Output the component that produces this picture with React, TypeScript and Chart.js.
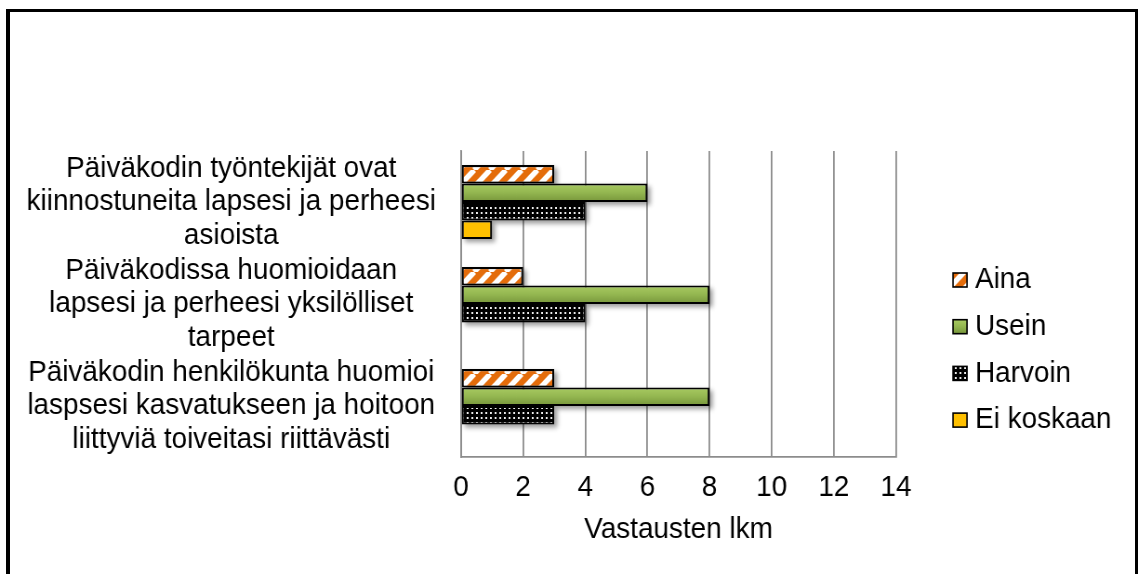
import { useEffect, useRef } from "react";
import { Chart, registerables } from "chart.js";

Chart.register(...registerables);

const categories: string[][] = [
  ["Päiväkodin työntekijät ovat", "kiinnostuneita lapsesi ja perheesi", "asioista"],
  ["Päiväkodissa huomioidaan", "lapsesi ja perheesi yksilölliset", "tarpeet"],
  ["Päiväkodin henkilökunta huomioi", "laspsesi kasvatukseen ja hoitoon", "liittyviä toiveitasi riittävästi"],
];
const seriesNames = ["Aina", "Usein", "Harvoin", "Ei koskaan"];
const ainaValues = [3, 2, 3];
const useinValues = [6, 8, 8];
const harvoinValues = [4, 4, 3];
const eiKoskaanValues = [1, 0, 0];
const xTickValues = [0, 2, 4, 6, 8, 10, 12, 14];
const xAxisTitle = "Vastausten lkm";

// The reference text is slightly condensed; draw on a slightly wider logical canvas
// and scale it to the page width with CSS.
const PAGE_W = 1138;
const PAGE_H = 574;
const LOGICAL_W = 1224;
const SX = PAGE_W / LOGICAL_W;
const lx = (screenX: number) => screenX / SX;

const FONT_FAMILY = "'Liberation Sans', Arial, sans-serif";
const FONT_SIZE = 30;
const LINE_HEIGHT = 1.11;

function stripePattern(ctx: CanvasRenderingContext2D): CanvasPattern | string {
  const s = 17;
  const c = document.createElement("canvas");
  c.width = s;
  c.height = s;
  const g = c.getContext("2d");
  if (!g) return "#E46C0A";
  g.fillStyle = "#E46C0A";
  g.fillRect(0, 0, s, s);
  g.strokeStyle = "#ffffff";
  g.lineWidth = 5.5;
  for (const o of [-s, 0, s]) {
    g.beginPath();
    g.moveTo(o, s);
    g.lineTo(o + s, 0);
    g.stroke();
  }
  return ctx.createPattern(c, "repeat") || "#E46C0A";
}

function dotPattern(ctx: CanvasRenderingContext2D): CanvasPattern | string {
  const w = 5;
  const h = 5;
  const c = document.createElement("canvas");
  c.width = w;
  c.height = h;
  const g = c.getContext("2d");
  if (!g) return "#000";
  g.fillStyle = "#000000";
  g.fillRect(0, 0, w, h);
  g.fillStyle = "#ececec";
  g.fillRect(2, 2, 2, 2);
  return ctx.createPattern(c, "repeat") || "#000";
}

function greenGradient(ctx: CanvasRenderingContext2D, top: number, h: number) {
  const gr = ctx.createLinearGradient(0, top, 0, top + h);
  gr.addColorStop(0, "#a9cb62");
  gr.addColorStop(0.5, "#93b650");
  gr.addColorStop(1, "#76953a");
  return gr;
}

const shadowPlugin = {
  id: "barShadow",
  beforeDatasetsDraw(chart: any) {
    const ctx: CanvasRenderingContext2D = chart.ctx;
    chart.data.datasets.forEach((_: any, i: number) => {
      const meta = chart.getDatasetMeta(i);
      meta.data.forEach((el: any) => {
        const { x, y, base, height } = el.getProps(["x", "y", "base", "height"], true);
        const w = x - base;
        if (!(w > 0.5)) return;
        ctx.save();
        ctx.filter = "blur(2.5px)";
        ctx.fillStyle = "rgba(0,0,0,0.4)";
        ctx.fillRect(base + 3.2, y - height / 2 + 3, w, height);
        ctx.restore();
      });
    });
  },
};

const legendPlugin = {
  id: "sideLegend",
  afterDraw(chart: any) {
    const ctx: CanvasRenderingContext2D = chart.ctx;
    const startY = 280;
    const step = 46.7;
    const boxX = lx(953);
    const boxW = lx(967) - lx(953);
    const boxH = 14;
    const textX = lx(975);
    chart.data.datasets.forEach((ds: any, i: number) => {
      const cy = startY + i * step;
      const top = cy - boxH / 2;
      ctx.save();
      let fill = ds.backgroundColor;
      if (typeof fill === "function") fill = greenGradient(ctx, top, boxH);
      ctx.fillStyle = fill;
      ctx.fillRect(boxX, top, boxW, boxH);
      ctx.strokeStyle = "#000";
      ctx.lineWidth = 1.6;
      ctx.strokeRect(boxX, top, boxW, boxH);
      ctx.fillStyle = "#000";
      ctx.font = `${FONT_SIZE}px ${FONT_FAMILY}`;
      ctx.textBaseline = "middle";
      ctx.textAlign = "left";
      ctx.fillText(ds.label, textX, cy);
      ctx.restore();
    });
  },
};

export default function App() {
  const ref = useRef<HTMLCanvasElement>(null);

  useEffect(() => {
    const canvas = ref.current;
    if (!canvas) return;
    const ctx = canvas.getContext("2d");
    if (!ctx) return;

    const stripes = stripePattern(ctx);
    const dots = dotPattern(ctx);
    const green = (c: any) => {
      const el = c.element;
      if (!el || el.y == null || !isFinite(el.y) || !el.height) return "#8db24a";
      return greenGradient(c.chart.ctx, el.y - el.height / 2, el.height);
    };

    const font = { family: FONT_FAMILY, size: FONT_SIZE, lineHeight: LINE_HEIGHT };
    const common = {
      borderColor: "#000000",
      borderWidth: 2.1,
      borderSkipped: false,
      categoryPercentage: 0.725,
      barPercentage: 1,
    };

    const plotLeft = lx(461);
    const plotRight = lx(896);
    const plotTop = 151;
    const plotBottom = 457;
    const xAxisHeight = 89.7;

    const chart = new Chart(ctx, {
      type: "bar",
      data: {
        labels: categories,
        datasets: [
          { label: seriesNames[0], data: ainaValues, backgroundColor: stripes, ...common },
          { label: seriesNames[1], data: useinValues, backgroundColor: green, ...common },
          { label: seriesNames[2], data: harvoinValues, backgroundColor: dots, ...common },
          { label: seriesNames[3], data: eiKoskaanValues, backgroundColor: "#FFC000", ...common },
        ] as any,
      },
      options: {
        indexAxis: "y",
        responsive: false,
        animation: false,
        events: [],
        devicePixelRatio: 1,
        layout: {
          padding: {
            top: plotTop,
            right: LOGICAL_W - plotRight,
            bottom: PAGE_H - plotBottom - xAxisHeight,
            left: 0,
          },
        },
        plugins: {
          legend: { display: false },
          tooltip: { enabled: false },
        },
        scales: {
          x: {
            type: "linear",
            min: 0,
            max: 14,
            afterBuildTicks: (s: any) => {
              s.ticks = xTickValues.map((v) => ({ value: v }));
            },
            afterFit: (s: any) => {
              s.height = xAxisHeight;
            },
            grid: { color: "#8c8c8c", lineWidth: 1.8, drawTicks: false },
            border: { display: true, color: "#8c8c8c", width: 1.8 },
            ticks: { padding: 14, color: "#000", font },
            title: {
              display: true,
              text: xAxisTitle,
              color: "#000",
              font,
              padding: { top: 0, bottom: 0 },
            },
          },
          y: {
            type: "category",
            grid: { display: false, drawTicks: false },
            border: { display: true, color: "#8c8c8c", width: 1.8 },
            ticks: { crossAlign: "center", padding: 27, color: "#000", font, autoSkip: false },
            afterFit: (s: any) => {
              s.width = plotLeft;
            },
          },
        },
      } as any,
      plugins: [shadowPlugin, legendPlugin],
    });
    chart.update();

    return () => {
      chart.destroy();
    };
  }, []);

  return (
    <div
      style={{
        position: "fixed",
        left: 0,
        top: 0,
        width: PAGE_W,
        height: PAGE_H,
        overflow: "hidden",
        background: "#ffffff",
      }}
    >
      <div
        style={{
          position: "absolute",
          left: 6,
          top: 9,
          width: 1125,
          height: 700,
          borderLeft: "4px solid #000",
          borderTop: "3px solid #000",
          borderRight: "3px solid #000",
        }}
      />
      <canvas
        ref={ref}
        width={LOGICAL_W}
        height={PAGE_H}
        style={{
          position: "absolute",
          left: 0,
          top: 0,
          width: PAGE_W,
          height: PAGE_H,
          display: "block",
        }}
      />
    </div>
  );
}
